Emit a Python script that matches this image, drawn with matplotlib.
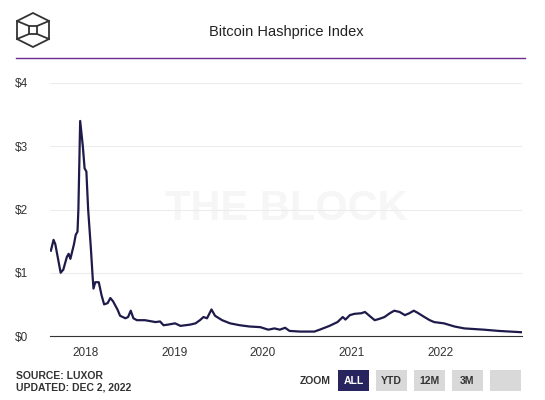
import matplotlib
matplotlib.use("Agg")
import matplotlib.pyplot as plt
from matplotlib.patches import Polygon, Rectangle
from matplotlib.lines import Line2D

years = [2017.61,2017.64,2017.66,2017.72,2017.75,2017.79,2017.81,2017.83,2017.87,2017.89,2017.91,2017.92,2017.94,2017.97,2017.99,2018.01,2018.03,2018.06,2018.08,2018.09,2018.11,2018.15,2018.18,2018.21,2018.25,2018.28,2018.31,2018.36,2018.39,2018.45,2018.48,2018.51,2018.54,2018.58,2018.67,2018.79,2018.84,2018.88,2018.93,2019.01,2019.07,2019.18,2019.24,2019.29,2019.33,2019.37,2019.42,2019.46,2019.54,2019.63,2019.74,2019.85,2019.97,2020.06,2020.13,2020.19,2020.25,2020.30,2020.42,2020.58,2020.64,2020.75,2020.84,2020.90,2020.93,2020.98,2021.03,2021.11,2021.15,2021.20,2021.26,2021.31,2021.37,2021.43,2021.48,2021.54,2021.60,2021.65,2021.70,2021.74,2021.82,2021.88,2021.93,2022.04,2022.16,2022.27,2022.38,2022.49,2022.66,2022.91]
values = [1.35,1.52,1.45,1.0,1.05,1.25,1.3,1.22,1.45,1.6,1.65,2.0,3.4,3.0,2.65,2.6,2.0,1.4,0.95,0.75,0.85,0.85,0.65,0.5,0.52,0.6,0.55,0.42,0.32,0.28,0.3,0.4,0.28,0.25,0.25,0.22,0.23,0.17,0.18,0.2,0.16,0.18,0.2,0.25,0.3,0.28,0.42,0.32,0.25,0.2,0.17,0.15,0.14,0.1,0.12,0.1,0.13,0.08,0.07,0.07,0.1,0.16,0.22,0.3,0.26,0.33,0.35,0.36,0.38,0.32,0.25,0.27,0.3,0.36,0.4,0.38,0.33,0.36,0.4,0.37,0.3,0.25,0.22,0.2,0.15,0.12,0.11,0.1,0.08,0.06]
year_ticks = [2018, 2019, 2020, 2021, 2022]
y_ticks = [0, 1, 2, 3, 4]
y_labels = ["$0", "$1", "$2", "$3", "$4"]
buttons = ["ALL", "YTD", "12M", "3M", ""]

plt.rcParams['font.family'] = ['Liberation Sans', 'DejaVu Sans']
fig = plt.figure(figsize=(5.45, 4.0), dpi=100)
ax = fig.add_axes([50/545, 1-336/400, 472/545, 253/400])
ax.plot(years, values, color="#1e1b4b", lw=1.6, zorder=3)
ax.set_xlim(2017.6, 2022.92)
ax.set_ylim(0, 4)
ax.set_yticks(y_ticks)
ax.set_yticklabels(y_labels, color="#333333", fontsize=8.5)
ax.set_xticks(year_ticks)
ax.set_xticklabels([str(y) for y in year_ticks], color="#333333", fontsize=8.5)
ax.tick_params(length=0, pad=8)
ax.tick_params(axis='y', pad=16)
for yv in y_ticks[1:]:
    ax.axhline(yv, color="#ececec", lw=0.8, zorder=1)
for s in ["top", "right", "left"]:
    ax.spines[s].set_visible(False)
ax.spines["bottom"].set_color("#333333")
ax.text(0.5, 0.5, "THE BLOCK", transform=ax.transAxes, ha="center", va="center",
        fontsize=30, fontweight="bold", color="#f6f6f6", zorder=0)

fig.text(0.525, 1-32/400, "Bitcoin Hashprice Index", ha="center", va="center", fontsize=10.5, color="#222222")
fig.add_artist(Line2D([16/545, 525/545], [1-58/400, 1-58/400], color="#6b2c91", lw=1))
# logo
cx, cy = 33/545, 1-30/400
pts = [(cx + dx/545, cy + dy/400) for dx, dy in [(0, 17), (16, 9), (16, -9), (0, -17), (-16, -9), (-16, 9)]]
fig.add_artist(Polygon(pts, closed=True, fill=False, ec="#333333", lw=1.3))
fig.add_artist(Rectangle((cx-4/545, cy-4/400), 8/545, 8/400, fill=False, ec="#333333", lw=1.3))
for (dx, dy), (ix, iy) in [((-16, 9), (-4, 4)), ((16, 9), (4, 4)), ((-16, -9), (-4, -4)), ((16, -9), (4, -4))]:
    fig.add_artist(Line2D([cx+dx/545, cx+ix/545], [cy+dy/400, cy+iy/400], color="#333333", lw=1.3))

fig.text(16/545, 1-376/400, "SOURCE: LUXOR", fontsize=7.5, fontweight="bold", color="#333333", va="center")
fig.text(16/545, 1-388/400, "UPDATED: DEC 2, 2022", fontsize=7.5, fontweight="bold", color="#333333", va="center")
fig.text(300/545, 1-381/400, "ZOOM", fontsize=7.5, fontweight="bold", color="#333333", va="center")
x0 = 338
for i, b in enumerate(buttons):
    bx = x0 + i*38
    fc = "#28245e" if i == 0 else "#d9d9d9"
    tc = "white" if i == 0 else "#333333"
    fig.add_artist(Rectangle((bx/545, 1-391/400), 31/545, 21/400, fc=fc, ec="none"))
    fig.text((bx+15.5)/545, 1-381/400, b, ha="center", va="center", fontsize=7.5, fontweight="bold", color=tc)

fig.savefig("out.png", dpi=100, facecolor="white")
